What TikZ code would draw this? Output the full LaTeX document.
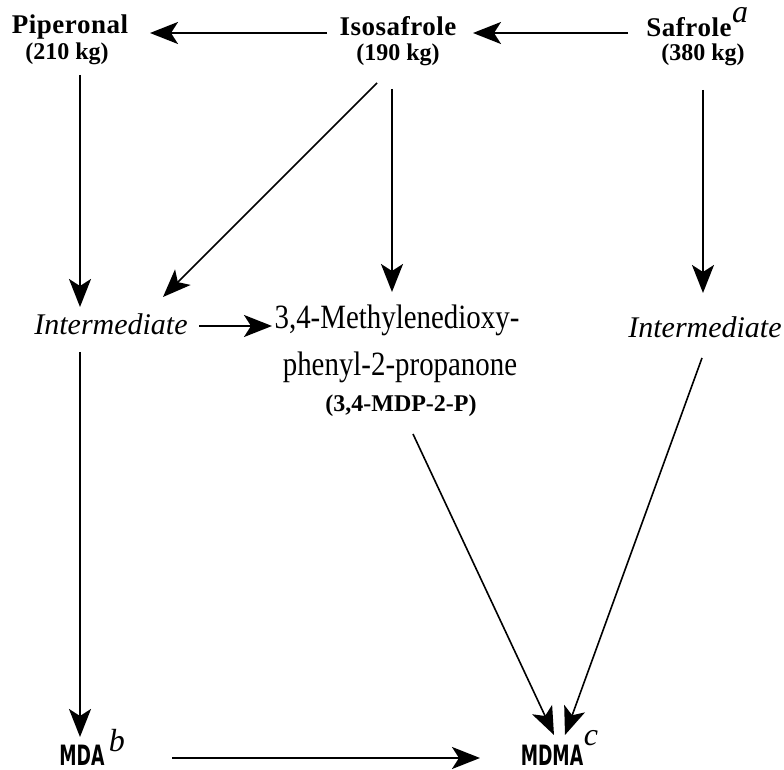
\documentclass[tikz,border=0pt]{standalone}
\usepackage{fontspec}
\usepackage{graphicx}
\setmainfont{Liberation Serif}
\newfontfamily\heavysans{DejaVu Sans}
\usetikzlibrary{arrows.meta,calc}
\tikzset{
  lbl/.style={anchor=base, inner sep=0pt, outer sep=0pt},
  namebf/.style={lbl, font=\fontsize{13.5}{16}\selectfont\bfseries\addfontfeatures{LetterSpace=2}},
  kgbf/.style={lbl, font=\fontsize{12}{14}\selectfont\bfseries},
  midtxt/.style={lbl, font=\fontsize{17}{20}\selectfont},
  midbf/.style={lbl, font=\fontsize{12}{14}\selectfont\bfseries},
  interm/.style={lbl, font=\fontsize{15}{17}\selectfont\itshape},
  supit/.style={lbl, font=\fontsize{16}{18}\selectfont\itshape},
  drug/.style={lbl, font=\fontsize{14}{16}\selectfont\heavysans\bfseries},
  arr/.style={line width=1pt, -{Stealth[length=14pt, width=11pt, inset=3.5pt]}},
  arrthin/.style={line width=0.8pt, -{Stealth[length=14pt, width=11pt, inset=3.5pt]}}
}
\begin{document}
\begin{tikzpicture}[x=0.5pt, y=-0.5pt]
\useasboundingbox (0,0) rectangle (784,770);
% top row
\node[namebf] (pip) at (70,34) {Piperonal};
\node[kgbf] (pipkg) at (67,60) {(210 kg)};
\node[namebf] (iso) at (398,36) {Isosafrole};
\node[kgbf] (isokg) at (398,61) {(190 kg)};
\node[namebf] (saf) at (689,37) {Safrole};
\node[kgbf] (safkg) at (703,61) {(380 kg)};
\node[supit] (supa) at (740,23) {a};
% middle row
\node[interm] (intl) at (111,335) {Intermediate};
\node[midtxt] (mdp1) at (397,329) {\scalebox{0.85}[1]{3,4-Methylenedioxy-}};
\node[midtxt] (mdp2) at (400,376) {\scalebox{0.85}[1]{phenyl-2-propanone}};
\node[midbf] (mdp3) at (401,412) {(3,4-MDP-2-P)};
\node[interm] (intr) at (705,338) {Intermediate};
% bottom row
\node[drug] (mda) at (82,766) {\scalebox{0.62}[1]{MDA}};
\node[supit] (supb) at (117,752) {b};
\node[drug] (mdma) at (552,766) {\scalebox{0.62}[1]{MDMA}};
\node[supit] (supc) at (591,746) {c};
% connectors
\draw[arr] ($(saf.base)+(-61,-4)$) -- ($(iso.base)+(75,-3)$);
\draw[arr] ($(iso.base)+(-71,-3)$) -- ($(pip.base)+(80,-1)$);
\draw[arr] ($(pipkg.base)+(13,15)$) -- ($(intl.base)+(-31,-28)$);
\draw[arrthin] ($(isokg.base)+(-21,22)$) -- ($(intl.base)+(52,-38)$);
\draw[arr] ($(isokg.base)+(-6,28)$) -- ($(mdp1.base)+(-5,-37)$);
\draw[arr] ($(safkg.base)+(0,29)$) -- ($(intr.base)+(-2,-45)$);
\draw[arr] ($(intl.base)+(88,-9)$) -- ($(mdp1.base)+(-125,-3)$);
\draw[arr] ($(intl.base)+(-31,17)$) -- ($(mda.base)+(-2,-29)$);
\draw[arrthin] ($(mdp3.base)+(12,22)$) -- ($(mdma.base)+(2,-31)$);
\draw[arrthin] ($(intr.base)+(-3,20)$) -- ($(mdma.base)+(13,-31)$);
\draw[arr, line width=1.2pt] ($(mda.base)+(90,-8)$) -- ($(mdma.base)+(-72,-8)$);
\end{tikzpicture}
\end{document}
